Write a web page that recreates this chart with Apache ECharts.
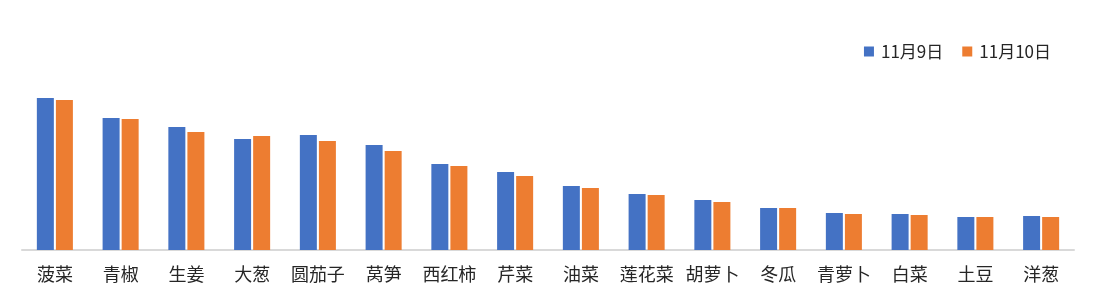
<!DOCTYPE html>
<html><head><meta charset="utf-8">
<script src="https://cdn.jsdelivr.net/npm/echarts@6/dist/echarts.min.js"></script>
<style>html,body{margin:0;padding:0;background:#fff}#c{width:1096px;height:302px}</style>
</head><body><div id="c"></div>
<script>
const categories = ['菠菜','青椒','生姜','大葱','圆茄子','莴笋','西红柿','芹菜','油菜','莲花菜','胡萝卜','冬瓜','青萝卜','白菜','土豆','洋葱'];
const seriesNames = ['11月9日','11月10日'];
const nov9 = [152,132,123,111,115,105,86,78,64,56,50,42,37,36,33,34];
const nov10 = [150,131,118,114,109,99,84,74,62,55,48,42,36,35,33,33];
const chart = echarts.init(document.getElementById('c'));
const font = '"Noto Sans CJK SC", "Microsoft YaHei", sans-serif';
chart.setOption({
  animation:false,
  textStyle:{fontFamily:font},
  legend:{
    right:40, top:38, itemWidth:10, itemHeight:10, itemGap:19,
    icon:'rect',
    textStyle:{fontSize:17,color:'#262626',fontFamily:font,padding:[0,0,0,2]},
    data:seriesNames
  },
  grid:{left:22,right:22,top:90,bottom:52},
  xAxis:{
    type:'category', data:categories,
    axisLine:{lineStyle:{color:'#d9d9d9',width:2}},
    axisTick:{show:false},
    axisLabel:{fontSize:18,color:'#262626',margin:15,fontFamily:font,interval:0}
  },
  yAxis:{type:'value',min:0,max:160,show:false,splitLine:{show:false}},
  series:[
    {name:seriesNames[0],type:'bar',data:nov9,barWidth:17,barGap:'12%',itemStyle:{color:'#4472c4'}},
    {name:seriesNames[1],type:'bar',data:nov10,barWidth:17,barGap:'12%',itemStyle:{color:'#ed7d31'}}
  ]
});
</script></body></html>
